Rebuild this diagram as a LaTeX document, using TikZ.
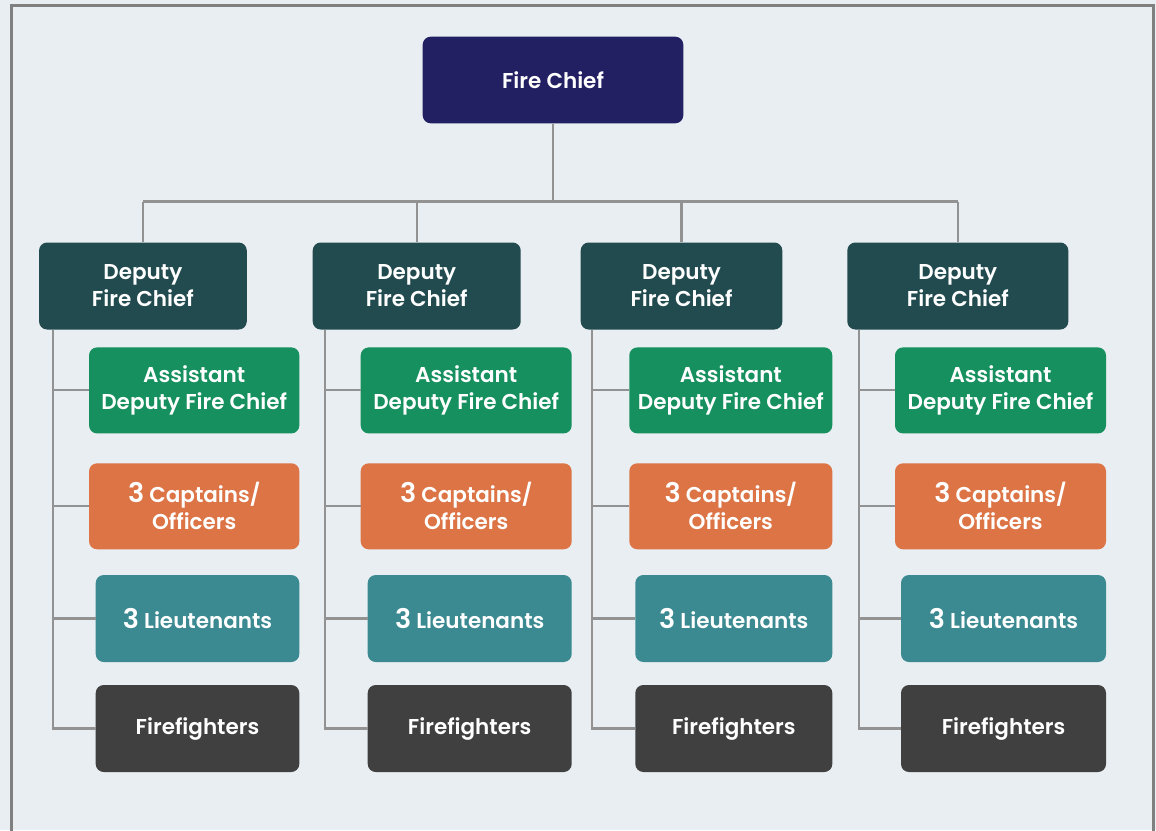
\documentclass[tikz,border=0pt]{standalone}
\usepackage{fontspec}
\newfontfamily\boxfont{Poppins SemiBold}
\definecolor{pagebg}{HTML}{E8EEF1}
\definecolor{framegray}{HTML}{808080}
\definecolor{linegray}{HTML}{929292}
\definecolor{chiefblue}{HTML}{222062}
\definecolor{deputyteal}{HTML}{224B4F}
\definecolor{assistgreen}{HTML}{15905E}
\definecolor{captainorange}{HTML}{DD7445}
\definecolor{lieuttealc}{HTML}{3B8A91}
\definecolor{fightergray}{HTML}{404040}
\newcommand{\bignum}[1]{{\fontsize{27}{27}\selectfont #1}}
\tikzset{
  orgbox/.style={rectangle, rounded corners=8pt, inner sep=0pt, align=center,
    text=white, font=\boxfont\fontsize{21.5}{27}\selectfont},
  conn/.style={draw=linegray, line width=2.1pt},
}
\begin{document}
\begin{tikzpicture}[x=1pt,y=-1pt]
  \fill[pagebg] (0,0) rectangle (1156,830);
  \useasboundingbox (0,0) rectangle (1156,830);
  % outer frame, open at the bottom
  \draw[framegray, line width=3pt] (11,832) -- (11,5.5) -- (1153.5,5.5) -- (1153.5,832);

  % top of the hierarchy
  \node[orgbox, fill=chiefblue, minimum width=260.6pt, minimum height=86.6pt] (fc) at (553,80) {Fire Chief};

  % one column per deputy
  \foreach \k/\dx/\dw/\ax/\aw/\lx/\lw/\tx in {
      1/142.9/207.7/194.2/210.3/197.5/203.6/52.7,
      2/416.7/208.0/466.2/211.0/469.7/204.0/325.0,
      3/681.5/201.6/730.8/203.0/733.8/197.0/592.3,
      4/957.8/221.0/1000.5/211.0/1003.5/205.0/859.3} {
    \node[orgbox, fill=deputyteal, minimum width=\dw pt, minimum height=87pt] (d\k) at (\dx,286) {Deputy\\Fire Chief};
    \node[orgbox, fill=assistgreen, minimum width=\aw pt, minimum height=86pt] (a\k) at (\ax,390.4) {Assistant\\Deputy Fire Chief};
    \node[orgbox, fill=captainorange, minimum width=\aw pt, minimum height=86pt] (c\k) at (\ax,506.3) {\bignum{3} Captains/\\Officers};
    \node[orgbox, fill=lieuttealc, minimum width=\lw pt, minimum height=87pt] (l\k) at (\lx,618.5) {\bignum{3} Lieutenants};
    \node[orgbox, fill=fightergray, minimum width=\lw pt, minimum height=87pt] (f\k) at (\lx,728.5) {Firefighters};
    \coordinate (t\k) at (\tx,329.7);
  }

  % connectors from the chief to the deputies
  \coordinate (bus) at (553,201.5);
  \draw[conn] (fc.south) -- (bus);
  \draw[conn] (d1.north |- bus) -- (d4.north |- bus);
  \foreach \k in {1,2,3,4} {
    \draw[conn] (d\k.north) -- (d\k.north |- bus);
  }

  % connectors from each deputy down to its staff
  \foreach \k in {1,2,3,4} {
    \draw[conn] (t\k) |- (f\k.west);
    \draw[conn] (t\k |- a\k.west) -- (a\k.west);
    \draw[conn] (t\k |- c\k.west) -- (c\k.west);
    \draw[conn] (t\k |- l\k.west) -- (l\k.west);
  }
\end{tikzpicture}
\end{document}
